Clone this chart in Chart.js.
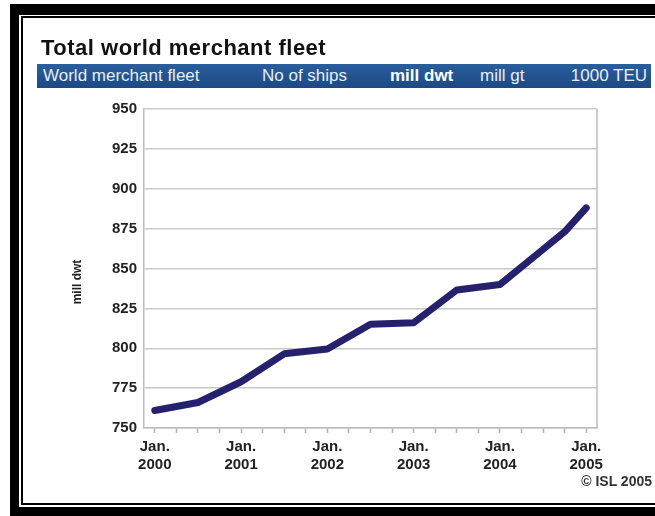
<!DOCTYPE html>
<html>
<head>
<meta charset="utf-8">
<script src="https://cdn.jsdelivr.net/npm/chart.js@4"></script>
<style>
  html, body { margin: 0; padding: 0; background: #fff; }
  body { width: 655px; height: 516px; position: relative; overflow: hidden;
         font-family: "Liberation Sans", Arial, sans-serif; }
  #outer { position: absolute; left: 10px; top: 4px; right: -30px; bottom: 0; border: 9px solid #000; border-top-width: 11px; }
  #inner { position: absolute; left: 21px; top: 16px; right: -30px; bottom: 11px; border: 2px solid #000; }
  #chart { position: absolute; left: 0; top: 0; }
  #title { position: absolute; left: 41px; top: 35px; font-size: 22px; letter-spacing: 0.5px;
           font-weight: bold; color: #111; white-space: nowrap; }
  #band { position: absolute; left: 37px; top: 64px; width: 614px; height: 24px;
          background: linear-gradient(#2a5e9c, #1b4a85); color: #e8eef6; font-size: 17px; }
  #band span { position: absolute; top: 2px; white-space: nowrap; }
  #copy { position: absolute; right: 3px; top: 473px; font-size: 14px; font-weight: bold; color: #333; }
</style>
</head>
<body>
<div id="outer"></div>
<div id="inner"></div>
<canvas id="chart" width="655" height="516"></canvas>
<div id="title">Total world merchant fleet</div>
<div id="band">
  <span style="left:6px">World merchant fleet</span>
  <span style="left:225px">No of ships</span>
  <span style="left:353px;font-weight:bold;color:#fff">mill dwt</span>
  <span style="left:443px">mill gt</span>
  <span style="right:4px">1000 TEU</span>
</div>
<div id="copy">© ISL 2005</div>
<script>
// quarters since Jan. 2000
var pointQuarters = [0, 2, 4, 6, 8, 10, 12, 14, 16, 18, 19, 20]
var fleetDwt = [761, 766, 779, 796.5, 799.5, 815, 816, 836.5, 840, 862, 873, 888]
var yearLabels = ['2000', '2001', '2002', '2003', '2004', '2005']
var yTicks = [750, 775, 800, 825, 850, 875, 900, 925, 950]
var unitLabel = 'mill dwt'

var quarterTicks = []
for (var q = 0; q <= 20; q++) quarterTicks.push(q)

var points = pointQuarters.map(function (q, i) { return { x: q, y: fleetDwt[i] } })

// right edge of the plot and the rotated unit label
var plotExtras = {
  id: 'plotExtras',
  beforeDatasetsDraw: function (chart) {
    var ctx = chart.ctx, a = chart.chartArea
    ctx.save()
    ctx.strokeStyle = '#bdbdbd'
    ctx.lineWidth = 1.5
    ctx.beginPath()
    ctx.moveTo(a.right, a.top)
    ctx.lineTo(a.right, a.bottom)
    ctx.stroke()
    ctx.translate(78, 282)
    ctx.rotate(-Math.PI / 2)
    ctx.fillStyle = '#222'
    ctx.font = 'bold 12px "Liberation Sans", Arial, sans-serif'
    ctx.textAlign = 'center'
    ctx.textBaseline = 'middle'
    ctx.fillText(unitLabel, 0, 0)
    ctx.restore()
  }
}

new Chart(document.getElementById('chart'), {
  type: 'line',
  data: {
    datasets: [{
      label: unitLabel,
      data: points,
      borderColor: '#25216d',
      borderWidth: 7,
      borderCapStyle: 'round',
      borderJoinStyle: 'round',
      pointRadius: 0,
      tension: 0,
      fill: false
    }]
  },
  options: {
    responsive: false,
    animation: false,
    layout: { padding: { left: 62, top: 109, right: 58, bottom: 28 } },
    plugins: { legend: { display: false }, tooltip: { enabled: false } },
    scales: {
      x: {
        type: 'linear',
        min: -0.5,
        max: 20.5,
        afterBuildTicks: function (scale) {
          scale.ticks = quarterTicks.map(function (v) { return { value: v } })
        },
        afterFit: function (scale) { scale.height = 60 },
        grid: { drawOnChartArea: false, drawTicks: true, tickLength: 5, tickColor: '#b0b0b0', tickWidth: 1.5 },
        border: { color: '#bdbdbd', width: 1.5 },
        ticks: {
          autoSkip: false,
          maxRotation: 0,
          padding: 5,
          color: '#222',
          font: { family: '"Liberation Sans", Arial, sans-serif', size: 15, weight: 'bold', lineHeight: 1.2 },
          callback: function (v) {
            return v % 4 === 0 ? ['Jan.', yearLabels[v / 4]] : ''
          }
        }
      },
      y: {
        min: 750,
        max: 950,
        afterBuildTicks: function (scale) {
          scale.ticks = yTicks.map(function (v) { return { value: v } })
        },
        afterFit: function (scale) { scale.width = 82 },
        grid: { color: '#c8c8c8', lineWidth: 1.5, drawTicks: false },
        border: { color: '#bdbdbd', width: 1.5 },
        ticks: {
          padding: 7,
          color: '#222',
          font: { family: '"Liberation Sans", Arial, sans-serif', size: 15, weight: 'bold' }
        }
      }
    }
  },
  plugins: [plotExtras]
})
</script>
</body>
</html>
